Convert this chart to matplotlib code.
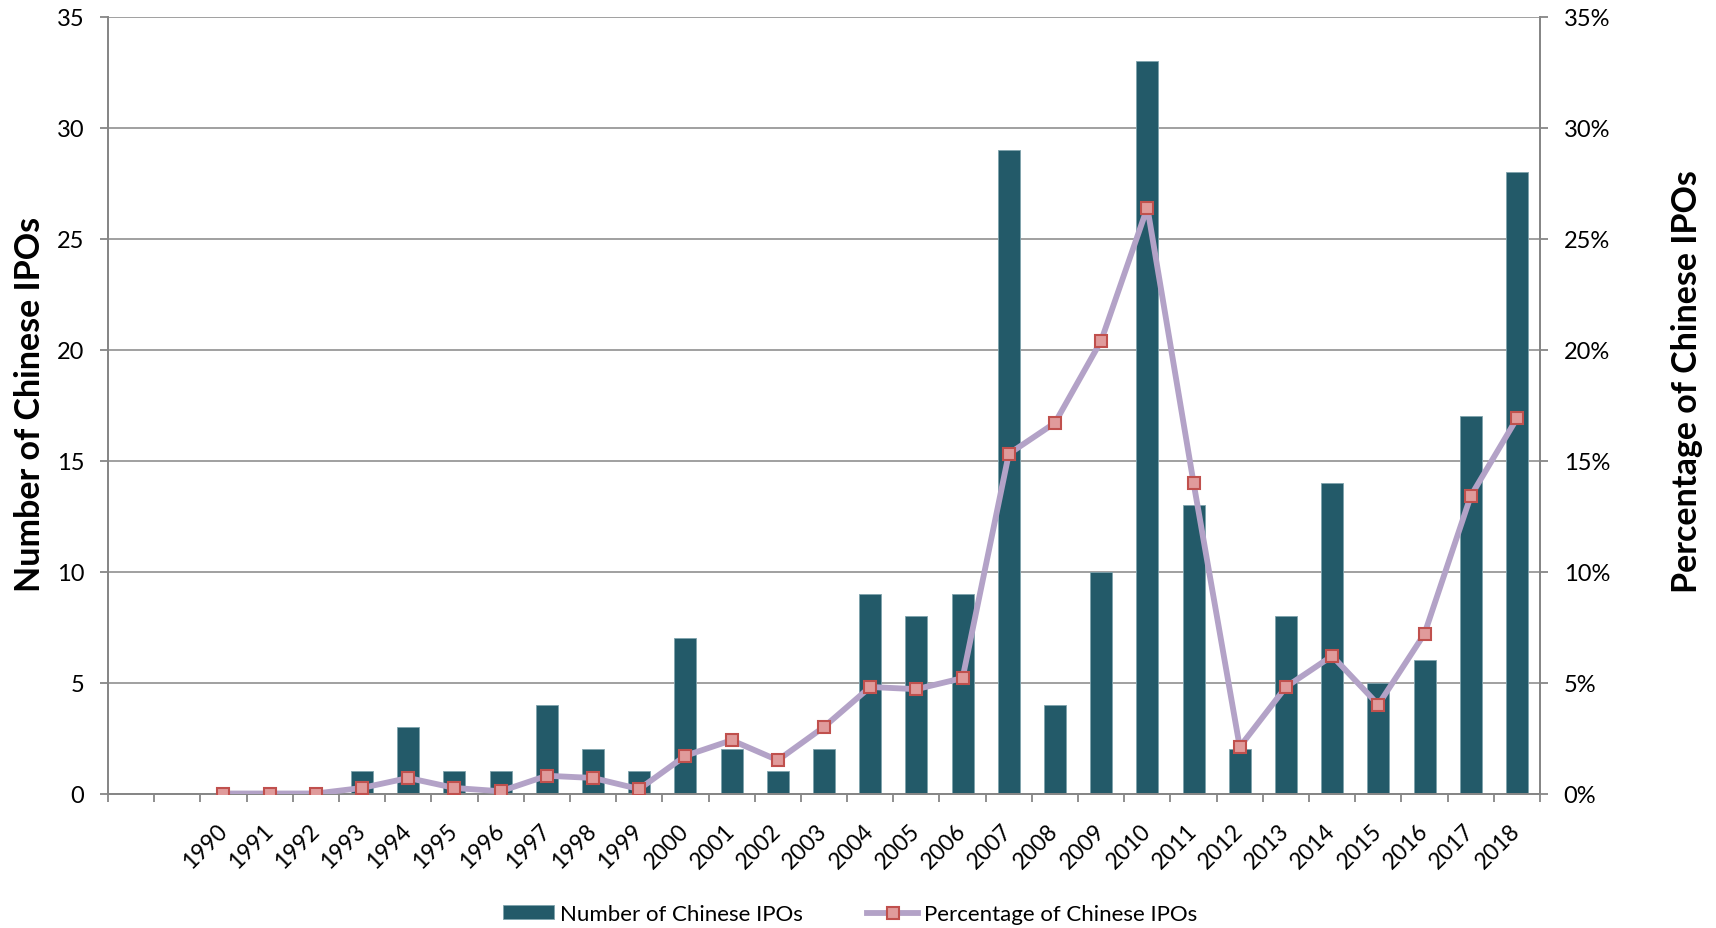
import numpy as np
import matplotlib
matplotlib.use("Agg")
import matplotlib.pyplot as plt
from matplotlib.ticker import FuncFormatter, MultipleLocator

plt.rcParams["font.family"] = ["Lato", "DejaVu Sans"]

# two empty category slots come before 1990 in the original chart
categories = ["", ""] + [str(y) for y in range(1990, 2019)]

ipo_count = [np.nan, np.nan,
             0, 0, 0, 1, 3, 1, 1, 4, 2, 1,
             7, 2, 1, 2, 9, 8, 9, 29, 4, 10,
             33, 13, 2, 8, 14, 5, 6, 17, 28]

ipo_pct = [np.nan, np.nan,
           0.0, 0.0, 0.0, 0.25, 0.7, 0.25, 0.1, 0.8, 0.7, 0.2,
           1.7, 2.4, 1.5, 3.0, 4.8, 4.7, 5.2, 15.3, 16.7, 20.4,
           26.4, 14.0, 2.1, 4.8, 6.2, 4.0, 7.2, 13.4, 16.9]

bar_color = "#235a69"
line_color = "#b3a2c7"
grid_color = "#868686"

W, H = 1716, 929
fig = plt.figure(figsize=(W / 100, H / 100), dpi=100)
ax = fig.add_axes([108 / W, 1 - 794.5 / H, (1540 - 108) / W, (794.5 - 17.7) / H])
ax2 = ax.twinx()

x = np.arange(len(categories))
ax.bar(x, ipo_count, width=0.476, color=bar_color, edgecolor="#7fa3ad",
       linewidth=0.6, label="Number of Chinese IPOs", zorder=2)

ax2.plot(x, ipo_pct, color=line_color, linewidth=4.2, marker="s",
         markersize=8, markerfacecolor="#e09b9b", markeredgecolor="#c0504d",
         markeredgewidth=1.5, label="Percentage of Chinese IPOs", zorder=3)

ax.set_xlim(-0.5, len(categories) - 0.5)
ax.set_ylim(0, 35)
ax2.set_ylim(0, 35)
ax.yaxis.set_major_locator(MultipleLocator(5))
ax2.yaxis.set_major_locator(MultipleLocator(5))
ax2.yaxis.set_major_formatter(FuncFormatter(lambda v, p: f"{v:.0f}%"))

ax.grid(axis="y", color=grid_color, linewidth=1.1, zorder=0)
ax.set_axisbelow(True)

for a in (ax, ax2):
    a.spines["top"].set_visible(False)
    for s in ("left", "right", "bottom"):
        a.spines[s].set_color(grid_color)
        a.spines[s].set_linewidth(1.3)

# category labels at centres, tick marks at boundaries
ax.set_xticks(x)
ax.set_xticklabels(categories, rotation=45, ha="right", va="center",
                   rotation_mode="anchor", fontsize=16.5)
ax.set_xticks(np.arange(len(categories) + 1) - 0.5, minor=True)
ax.tick_params(axis="x", which="major", length=0, pad=24)
ax.tick_params(axis="x", which="minor", length=6, width=1.3, color=grid_color)
ax.tick_params(axis="y", which="major", length=6, width=1.3, color=grid_color,
               labelsize=17, pad=11)
ax2.tick_params(axis="y", which="major", length=6, width=1.3, color=grid_color,
                labelsize=17, pad=11)

fig.text(30 / W, 1 - 404 / H, "Number of Chinese IPOs", rotation=90,
         ha="center", va="center", fontsize=24.5, fontweight="bold")
fig.text(1687 / W, 1 - 382 / H, "Percentage of Chinese IPOs", rotation=90,
         ha="center", va="center", fontsize=24.5, fontweight="bold")

h1, l1 = ax.get_legend_handles_labels()
h2, l2 = ax2.get_legend_handles_labels()
fig.legend(h1 + h2, l1 + l2, loc="center", bbox_to_anchor=(850 / W, 1 - 915 / H),
           ncol=2, frameon=False, fontsize=16, handlelength=2.3,
           handleheight=0.6, handletextpad=0.25, columnspacing=2.9)

fig.savefig("out.png", dpi=100)
